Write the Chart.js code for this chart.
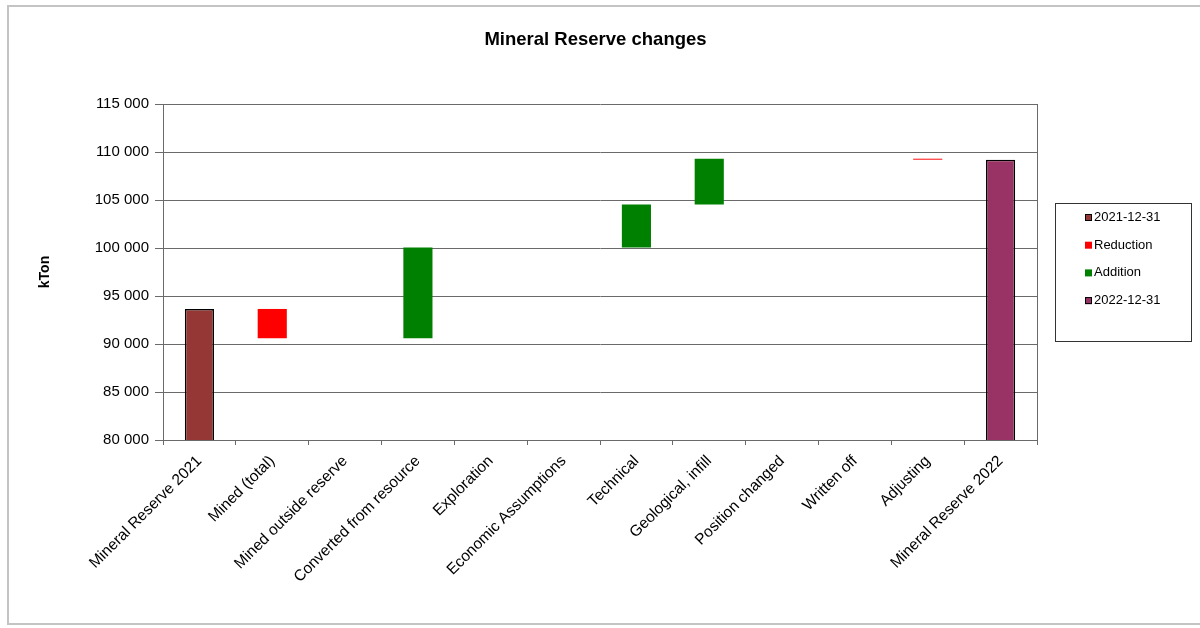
<!DOCTYPE html>
<html>
<head>
<meta charset="utf-8">
<title>Mineral Reserve changes</title>
<script src="https://cdn.jsdelivr.net/npm/chart.js@4/dist/chart.umd.min.js"></script>
<style>
  html, body { margin: 0; padding: 0; background: #fff; }
  #wrap { position: relative; width: 1200px; height: 628px; overflow: hidden; }
  #frame {
    position: absolute; left: 7px; top: 5px; width: 1200px; height: 620px;
    border: 2px solid #c4c4c4; border-right: none; box-sizing: border-box;
  }
  #reserveChart { position: absolute; left: 0; top: 0; }
</style>
</head>
<body>
<div id="wrap">
  <div id="frame"></div>
  <canvas id="reserveChart" width="1200" height="628"></canvas>
</div>
<script>
// categories along the x axis
const categories = [
  'Mineral Reserve 2021', 'Mined (total)', 'Mined outside reserve', 'Converted from resource',
  'Exploration', 'Economic Assumptions', 'Technical', 'Geological, infill',
  'Position changed', 'Written off', 'Adjusting', 'Mineral Reserve 2022'
];

// kTon values, floating bars are [from, to]
const reserve2021 = [93650, null, null, null, null, null, null, null, null, null, null, null];
const reductionRanges = [null, [90600, 93650], null, null, null, null, null, null, null, null, [109200, 109300], null];
const additionRanges = [null, null, null, [90600, 100050], null, null, [100050, 104520], [104520, 109300], null, null, null, null];
const reserve2022 = [null, null, null, null, null, null, null, null, null, null, null, 109200];

const yTicks = [80000, 85000, 90000, 95000, 100000, 105000, 110000, 115000];

const FONT = '"Liberation Sans", Arial, sans-serif';
const GRID = '#6a6a6a';

function spaced(v) {
  return String(v).replace(/\B(?=(\d{3})+(?!\d))/g, ' ');
}

// boxed legend on the right side
const boxLegend = {
  id: 'boxLegend',
  afterDraw(chart) {
    const { ctx } = chart;
    const x = 1055.5, y = 203.5, w = 136, h = 138;
    ctx.save();
    ctx.strokeStyle = '#333';
    ctx.lineWidth = 1;
    ctx.strokeRect(x, y, w, h);
    ctx.font = '13px ' + FONT;
    ctx.textBaseline = 'middle';
    chart.data.datasets.forEach((ds, i) => {
      const cy = 217.5 + i * 27.7;
      ctx.fillStyle = ds.backgroundColor;
      ctx.fillRect(1085, cy - 3.5, 7, 7);
      if (ds.borderWidth) {
        ctx.strokeStyle = '#000';
        ctx.lineWidth = 1;
        ctx.strokeRect(1085.5, cy - 3, 6, 6);
      }
      ctx.fillStyle = '#000';
      ctx.fillText(ds.label, 1094, cy);
    });
    ctx.restore();
  }
};

new Chart(document.getElementById('reserveChart'), {
  type: 'bar',
  data: {
    labels: categories,
    datasets: [
      {
        label: '2021-12-31', data: reserve2021,
        backgroundColor: '#953735', borderColor: '#000', borderWidth: 1.5, borderSkipped: false
      },
      {
        label: 'Reduction', data: reductionRanges,
        backgroundColor: '#ff0000', borderWidth: 0
      },
      {
        label: 'Addition', data: additionRanges,
        backgroundColor: '#008000', borderWidth: 0
      },
      {
        label: '2022-12-31', data: reserve2022,
        backgroundColor: '#993366', borderColor: '#000', borderWidth: 1.5, borderSkipped: false
      }
    ]
  },
  options: {
    responsive: false,
    animation: false,
    devicePixelRatio: 1,
    layout: { padding: { left: 0, right: 9, top: 0, bottom: 0 } },
    datasets: {
      bar: { grouped: false, barPercentage: 0.4, categoryPercentage: 1 }
    },
    plugins: {
      legend: { display: false },
      tooltip: { enabled: false },
      title: {
        display: true,
        text: 'Mineral Reserve changes',
        color: '#000',
        font: { family: FONT, size: 18.5, weight: 'bold' },
        padding: { top: 28.5, bottom: 53.3 }
      }
    },
    scales: {
      x: {
        afterFit(scale) { scale.height = 188; },
        grid: { offset: true, drawOnChartArea: false, tickLength: 5, color: GRID },
        border: { color: GRID, width: 1 },
        ticks: {
          autoSkip: false, minRotation: 45, maxRotation: 45, padding: 7,
          color: '#000', font: { family: FONT, size: 15.5 }
        }
      },
      y: {
        min: 80000,
        max: 115000,
        afterFit(scale) { scale.width = 163; },
        afterBuildTicks(scale) { scale.ticks = yTicks.map(v => ({ value: v })); },
        grid: { color: GRID, tickLength: 8, lineWidth: 1 },
        border: { color: GRID, width: 1 },
        ticks: {
          padding: 6, color: '#000',
          font: { family: FONT, size: 15 },
          callback: v => spaced(v)
        },
        title: {
          display: true, text: 'kTon', color: '#000',
          font: { family: FONT, size: 14, weight: 'bold' },
          padding: { top: 36.5, bottom: 0 }
        }
      },
      // right edge of the plot, also keeps room for the legend box
      yRight: {
        position: 'right',
        min: 80000,
        max: 115000,
        afterFit(scale) { scale.width = 154; },
        grid: { display: false },
        border: { display: true, color: GRID, width: 1 },
        ticks: { display: false }
      }
    }
  },
  plugins: [boxLegend]
});
</script>
</body>
</html>
